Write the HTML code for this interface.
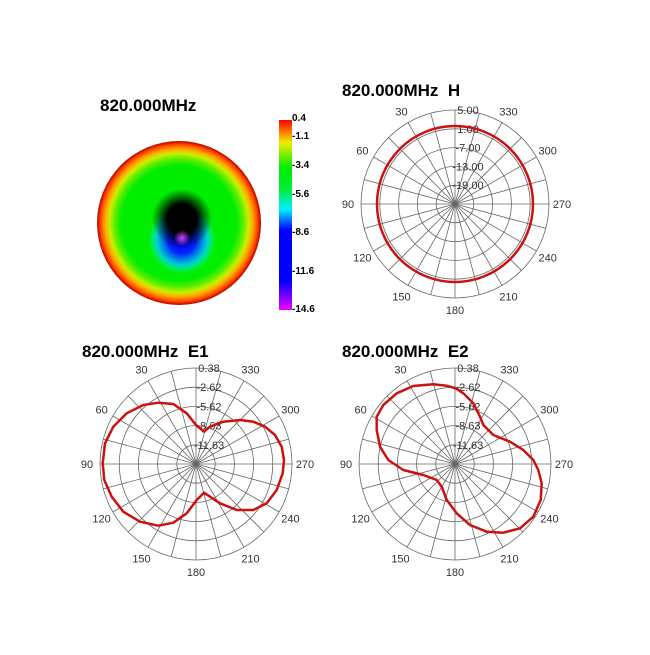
<!DOCTYPE html>
<html><head><meta charset="utf-8"><style>
body{margin:0;background:#fff;}
svg text{font-family:"Liberation Sans",Arial,sans-serif;white-space:pre;}
</style></head><body>
<svg id="s" width="650" height="650" viewBox="0 0 650 650" xmlns="http://www.w3.org/2000/svg">
<defs>
<radialGradient id="hm" cx="179" cy="223" r="82" gradientUnits="userSpaceOnUse">
<stop offset="0" stop-color="#00ee00"/>
<stop offset="0.7" stop-color="#00ee00"/>
<stop offset="0.78" stop-color="#55ee00"/>
<stop offset="0.85" stop-color="#ccee00"/>
<stop offset="0.9" stop-color="#ffaa00"/>
<stop offset="0.96" stop-color="#ff4400"/>
<stop offset="0.985" stop-color="#dd1100"/>
<stop offset="1" stop-color="#991100"/>
</radialGradient>
<radialGradient id="blk" cx="182" cy="219" r="30" gradientUnits="userSpaceOnUse">
<stop offset="0" stop-color="#000"/>
<stop offset="0.5" stop-color="#000"/>
<stop offset="1" stop-color="#000" stop-opacity="0"/>
</radialGradient>
<radialGradient id="blu" cx="182" cy="240" r="34" gradientUnits="userSpaceOnUse">
<stop offset="0" stop-color="#0000ff"/>
<stop offset="0.4" stop-color="#0022ff"/>
<stop offset="0.75" stop-color="#00ccff" stop-opacity="0.8"/>
<stop offset="1" stop-color="#00ffcc" stop-opacity="0"/>
</radialGradient>
<radialGradient id="mag" cx="182" cy="238" r="8" gradientUnits="userSpaceOnUse">
<stop offset="0" stop-color="#cc44ff"/>
<stop offset="1" stop-color="#cc44ff" stop-opacity="0"/>
</radialGradient>
<linearGradient id="cb" x1="0" y1="0" x2="0" y2="1">
<stop offset="0" stop-color="#ff0000"/>
<stop offset="0.06" stop-color="#ff7700"/>
<stop offset="0.12" stop-color="#eeee00"/>
<stop offset="0.25" stop-color="#00ee00"/>
<stop offset="0.36" stop-color="#00ee33"/>
<stop offset="0.47" stop-color="#00eeff"/>
<stop offset="0.58" stop-color="#0000ff"/>
<stop offset="0.85" stop-color="#0000ff"/>
<stop offset="1" stop-color="#ee00ff"/>
</linearGradient>
</defs>
<text x="100" y="111" font-size="17" font-weight="bold">820.000MHz</text>
<circle cx="179" cy="223" r="82" fill="url(#hm)"/>
<circle cx="182" cy="240" r="34" fill="url(#blu)"/>
<circle cx="182" cy="219" r="30" fill="url(#blk)"/>
<circle cx="182" cy="238" r="8" fill="url(#mag)"/>
<rect x="279" y="120" width="13" height="190" fill="url(#cb)"/>
<g font-size="10" font-weight="bold">
<text x="292" y="121">0.4</text><text x="292" y="139">-1.1</text><text x="292" y="168">-3.4</text>
<text x="292" y="197">-5.6</text><text x="292" y="235">-8.6</text><text x="292" y="274">-11.6</text><text x="292" y="312">-14.6</text>
</g>
<text x="342" y="96" font-size="17" font-weight="bold">820.000MHz&#160;&#160;H</text>
<text x="82" y="357" font-size="17" font-weight="bold">820.000MHz&#160;&#160;E1</text>
<text x="342" y="357" font-size="17" font-weight="bold">820.000MHz&#160;&#160;E2</text>
<g id="grids"></g>
<circle cx="455" cy="204" r="78" fill="none" stroke="#cc1111" stroke-width="2.5"/>
<polyline id="e1" fill="none" stroke="#cc1111" stroke-width="2.5" stroke-linejoin="round"/>
<polyline id="e2" fill="none" stroke="#cc1111" stroke-width="2.5" stroke-linejoin="round"/>
</svg>
<script>
var NS="http://www.w3.org/2000/svg",g=document.getElementById("grids");
function el(t,a,txt){var e=document.createElementNS(NS,t);for(var k in a)e.setAttribute(k,a[k]);if(txt)e.textContent=txt;g.appendChild(e);}
function grid(cx,cy,r,labs){
 for(var k=1;k<=5;k++)el("circle",{cx:cx,cy:cy,r:r*k/5,fill:"none",stroke:"#666","stroke-width":0.8});
 for(var a=0;a<360;a+=15){var t=a*Math.PI/180;el("line",{x1:cx,y1:cy,x2:cx-Math.sin(t)*r,y2:cy-Math.cos(t)*r,stroke:"#666","stroke-width":0.8});}
 for(var a=30;a<360;a+=30){var t=a*Math.PI/180;var rr=(a==180)?r+12:r+13;el("text",{x:cx-Math.sin(t)*rr,y:cy-Math.cos(t)*rr+4,"font-size":11,fill:"#333","text-anchor":"middle"},""+a);}
 for(var k=0;k<labs.length;k++){el("text",{x:cx+13,y:cy-r*(5-k)/5+4,"font-size":11,fill:"#333","text-anchor":"middle"},labs[k]);}
}
grid(455,204,94,["5.00","1.00","-7.00","-13.00","-19.00"]);
grid(196,464,96,["0.38","-2.62","-5.62","-8.63","-11.63"]);
grid(455,464,96,["0.38","-2.62","-5.62","-8.63","-11.63"]);
function pl(id,pts,ox,oy){var s=[];for(var i=0;i<pts.length;i+=2)s.push((pts[i]/3+ox).toFixed(1)+","+(pts[i+1]/3+oy).toFixed(1));s.push(s[0]);document.getElementById(id).setAttribute("points",s.join(" "));}
pl("e1",[348,255,372,275,390,260,430,245,480,240,520,245,555,260,585,285,605,320,612,360,608,400,590,450,560,490,520,510,470,510,420,490,390,470,372,458,350,480,320,520,280,548,235,557,180,545,130,515,95,470,73,420,68,370,75,310,100,260,140,220,190,195,235,188,280,192,320,220],80,340);
pl("e2",[377,145,400,160,430,190,450,230,460,255,490,285,540,305,580,330,610,360,625,390,635,430,632,480,610,530,570,565,520,578,470,575,420,555,380,520,350,480,335,440,320,420,280,405,220,390,175,360,150,320,140,270,140,230,160,195,200,160,250,138,310,133,350,137],330,340);
</script>
</body></html>
